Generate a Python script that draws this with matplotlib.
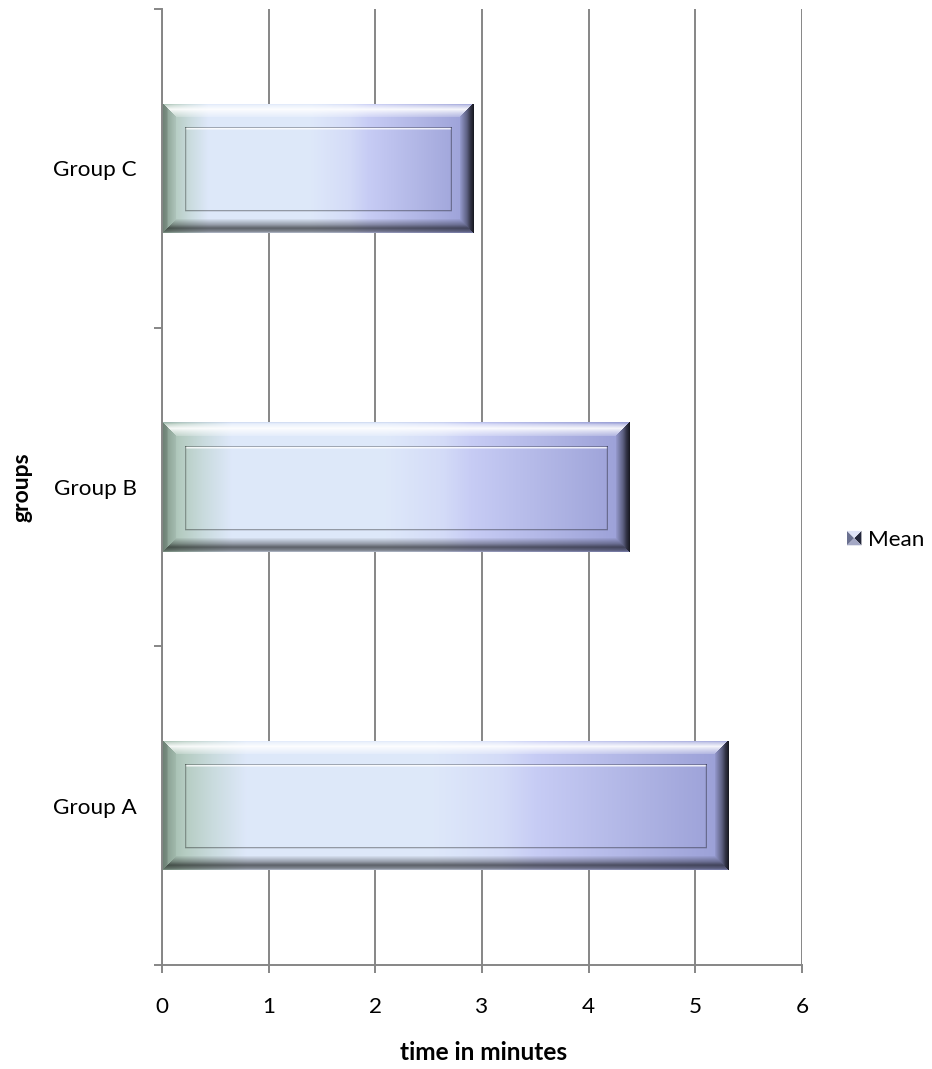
import numpy as np
import matplotlib
matplotlib.use("Agg")
import matplotlib.pyplot as plt
from matplotlib.patches import Polygon, Patch
from matplotlib.legend_handler import HandlerBase

# ---- data -------------------------------------------------------------
groups = ["Group A", "Group B", "Group C"]
mean_minutes = [5.31, 4.38, 2.92]
x_ticks = [0, 1, 2, 3, 4, 5, 6]
series_name = "Mean"
x_label = "time in minutes"
y_label = "groups"

# ---- style ------------------------------------------------------------
plt.rcParams["font.family"] = ["Lato", "DejaVu Sans"]
AXIS_GREY = "#868686"
FS = 16.2

W_PX, H_PX = 932, 1069
fig = plt.figure(figsize=(W_PX / 100, H_PX / 100), dpi=100)
ax = fig.add_axes([162 / W_PX, 1 - 965 / H_PX, 640 / W_PX, 956 / H_PX])

ax.set_xlim(0, 6)
ax.set_ylim(-0.5, len(groups) - 0.5)

pos = np.arange(len(groups))
bar_h = 0.405
bars = ax.barh(pos, mean_minutes, height=bar_h, color="none",
               edgecolor="none", zorder=2)

# horizontal colour ramp of the bar body
stops_t = [0.00, 0.04, 0.09, 0.15, 0.48, 0.60, 0.66, 0.85, 1.00]
stops_c = np.array([
    (0.60, 0.71, 0.64),
    (0.71, 0.80, 0.76),
    (0.79, 0.86, 0.87),
    (0.87, 0.91, 0.98),
    (0.87, 0.91, 0.98),
    (0.83, 0.86, 0.97),
    (0.78, 0.80, 0.96),
    (0.68, 0.70, 0.89),
    (0.60, 0.62, 0.84),
])


def ramp(t):
    return np.stack([np.interp(t, stops_t, stops_c[:, k]) for k in range(3)], -1)


def bevel_pixels(w, h, bevel=14, inset=23):
    xs = np.arange(w) + 0.5
    ys = np.arange(h) + 0.5
    X, Y = np.meshgrid(xs, ys)
    img = ramp(X / w)

    dl, dr, dt, db = X, w - X, Y, h - Y
    dist = np.stack([dl, dr, dt, db])
    zone = np.argmin(dist, axis=0)
    d = dist.min(axis=0)
    inb = d < bevel
    u = np.clip(d / bevel, 0, 1)

    white = np.ones(3)
    # top: bright highlight
    m = inb & (zone == 2)
    wmix = np.interp(u, [0, 0.15, 0.45, 0.7, 1.0], [-0.3, 0.35, 0.9, 0.55, 0.2])
    wm = wmix[m][:, None]
    dark_lav = np.array([0.60, 0.64, 0.80])
    img[m] = np.where(wm >= 0, img[m] * (1 - wm) + white * wm,
                      img[m] * (1 + wm) + dark_lav * (-wm))
    # bottom: dark shadow with a lighter lip
    m = inb & (zone == 3)
    f = np.interp(u, [0, 0.12, 0.35, 0.6, 1.0], [0.82, 0.58, 0.42, 0.68, 0.97])
    img[m] = img[m] * f[m][:, None]
    # left: soft grey-green
    m = inb & (zone == 0)
    f = np.interp(u, [0, 0.35, 0.45, 1.0], [0.70, 0.75, 0.88, 0.95])
    img[m] = img[m] * f[m][:, None]
    # right: deep navy edge
    m = inb & (zone == 1)
    f = np.interp(u, [0, 0.25, 0.5, 1.0], [0.14, 0.33, 0.6, 0.95])
    img[m] = img[m] * f[m][:, None]

    # inner panel outline (thin groove)
    i0, i1 = inset, w - inset
    j0, j1 = inset + 1, h - inset
    if i1 > i0 + 4:
        img[j0, i0:i1 + 1] *= 0.72
        img[j0 + 1, i0 + 1:i1] = img[j0 + 1, i0 + 1:i1] * 0.2 + 0.8
        img[j0 + 2, i0 + 1:i1] = img[j0 + 2, i0 + 1:i1] * 0.6 + 0.4
        img[j1, i0:i1 + 1] *= 0.66
        img[j1 + 1, i0:i1 + 1] *= 0.9
        img[j0:j1, i0] *= 0.7
        img[j0:j1, i0 + 1] *= 0.92
        img[j0:j1, i1] *= 0.66
        img[j0:j1, i1 - 1] *= 0.92
    return np.clip(img, 0, 1)


for rect in bars:
    x0, yb = rect.get_x(), rect.get_y()
    x1, yt = x0 + rect.get_width(), yb + rect.get_height()
    (px0, py0), (px1, py1) = ax.transData.transform([(x0, yb), (x1, yt)])
    w = max(int(round(px1 - px0)), 30)
    h = max(int(round(py1 - py0)), 30)
    im = ax.imshow(bevel_pixels(w, h), extent=(x0, x1, yb, yt),
                   origin="upper", aspect="auto", interpolation="nearest",
                   zorder=2)
    im.set_clip_path(rect)

# ---- axes, grid, ticks ------------------------------------------------
ax.set_aspect("auto")
ax.set_xlim(0, 6)
ax.set_ylim(-0.5, len(groups) - 0.5)
ax.set_axisbelow(True)
ax.grid(axis="x", color=AXIS_GREY, linewidth=1.4, zorder=0.5)
for side in ("top", "right"):
    ax.spines[side].set_visible(False)
for side in ("left", "bottom"):
    ax.spines[side].set_color(AXIS_GREY)
    ax.spines[side].set_linewidth(1.4)

ax.set_xticks(x_ticks)
ax.set_xticklabels([str(v) for v in x_ticks])
ax.tick_params(axis="x", direction="out", length=5.8, width=1.4,
               color=AXIS_GREY, pad=17, labelsize=FS)

ax.set_yticks(pos)
ax.set_yticklabels(groups)
ax.set_yticks(np.arange(len(groups) + 1) - 0.5, minor=True)
ax.tick_params(axis="y", which="major", length=0, pad=18, labelsize=FS)
ax.tick_params(axis="y", which="minor", direction="out", length=5.8,
               width=1.4, color=AXIS_GREY)

fig.text(484 / W_PX, 1 - 1052 / H_PX, x_label, ha="center", va="center",
         fontsize=17.6, fontweight="bold")
fig.text(22 / W_PX, 1 - 487 / H_PX, y_label, ha="center", va="center",
         rotation=90, fontsize=16.5, fontweight="bold")


# ---- legend -----------------------------------------------------------
class BevelSwatch(HandlerBase):
    def create_artists(self, legend, orig_handle, xdescent, ydescent,
                       width, height, fontsize, trans):
        s = min(width, height)
        x0 = -xdescent + (width - s) / 2
        y0 = -ydescent + (height - s) / 2
        c = (x0 + s / 2, y0 + s / 2)
        bl, br = (x0, y0), (x0 + s, y0)
        tl, tr = (x0, y0 + s), (x0 + s, y0 + s)
        parts = [([bl, tl, c], "#6a7090"), ([br, tr, c], "#23263a"),
                 ([tl, tr, c], "#dfe3f6"), ([bl, br, c], "#a3a7c4")]
        return [Polygon(p, closed=True, facecolor=col, edgecolor="none",
                        transform=trans) for p, col in parts]


proxy = Patch(facecolor="#9aa0d8")
fig.legend(handles=[proxy], labels=[series_name], loc="center left",
           bbox_to_anchor=(847 / W_PX, 1 - 540 / H_PX), frameon=False,
           fontsize=FS, handlelength=0.64, handleheight=0.64,
           handletextpad=0.3, borderpad=0, borderaxespad=0,
           handler_map={proxy: BevelSwatch()})

fig.savefig("out.png", dpi=100)
